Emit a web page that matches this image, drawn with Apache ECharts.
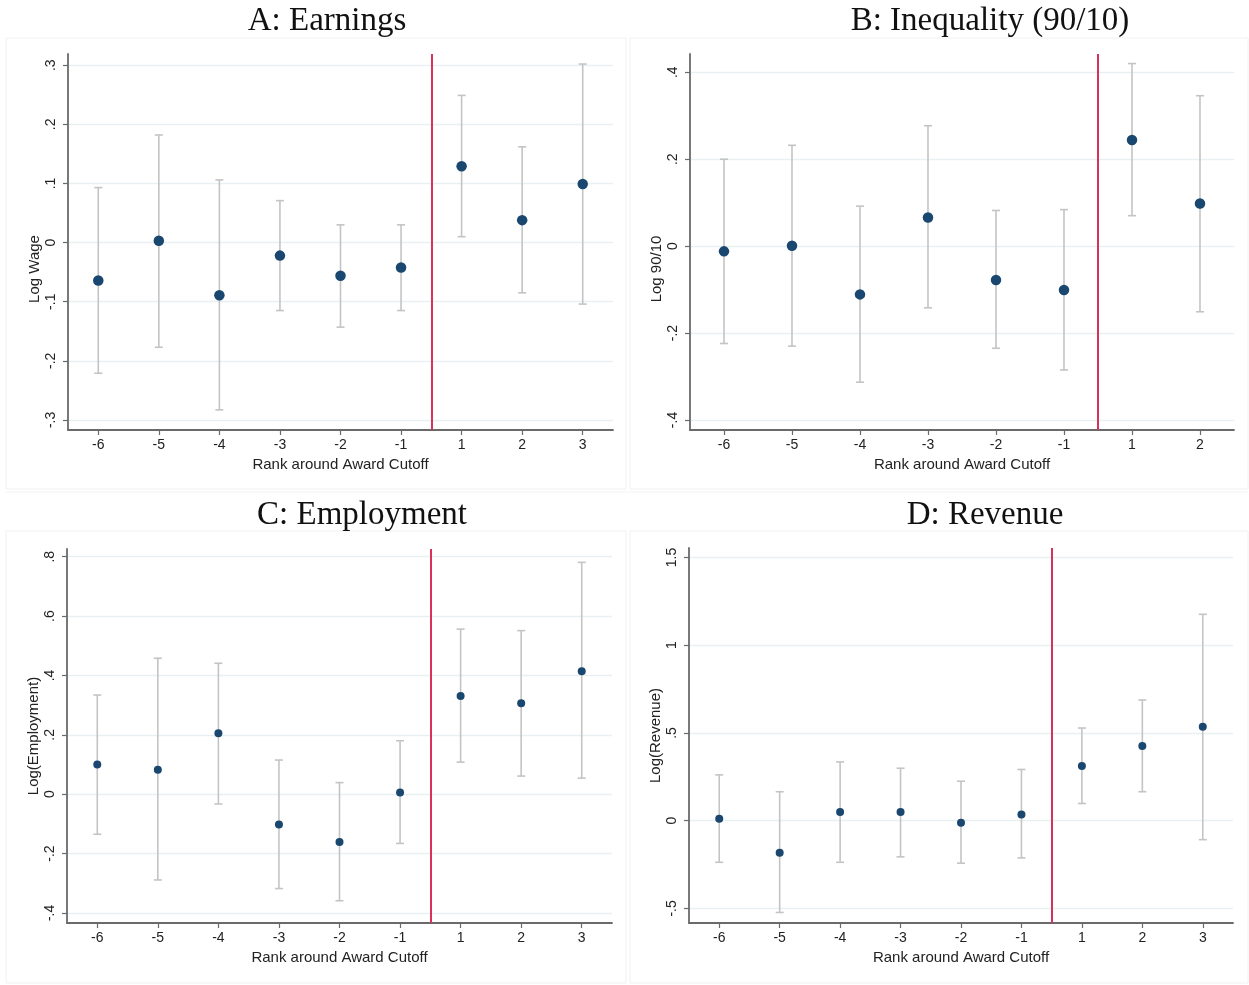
<!DOCTYPE html>
<html>
<head>
<meta charset="utf-8">
<script src="https://cdn.jsdelivr.net/npm/echarts@6/dist/echarts.min.js"></script>
<style>
html,body{margin:0;padding:0;background:#fff;}
#chart{width:1249px;height:985px;}
</style>
</head>
<body>
<div id="chart"></div>
<script>
// ---- data ----
const ranks9 = ['-6', '-5', '-4', '-3', '-2', '-1', '1', '2', '3'];
const ranks8 = ['-6', '-5', '-4', '-3', '-2', '-1', '1', '2'];

const earningsPoint = [-0.064, 0.003, -0.089, -0.022, -0.056, -0.042, 0.129, 0.038, 0.099];
const earningsLow   = [-0.221, -0.177, -0.283, -0.115, -0.143, -0.115, 0.010, -0.085, -0.104];
const earningsHigh  = [0.093, 0.182, 0.106, 0.071, 0.030, 0.030, 0.249, 0.162, 0.302];

const ineqPoint = [-0.012, 0.001, -0.111, 0.066, -0.078, -0.101, 0.244, 0.098];
const ineqLow   = [-0.224, -0.230, -0.313, -0.142, -0.235, -0.285, 0.070, -0.151];
const ineqHigh  = [0.200, 0.232, 0.092, 0.277, 0.082, 0.084, 0.420, 0.346];

const emplPoint = [0.100, 0.082, 0.205, -0.102, -0.161, 0.006, 0.331, 0.306, 0.414];
const emplLow   = [-0.135, -0.289, -0.033, -0.318, -0.359, -0.166, 0.108, 0.061, 0.054];
const emplHigh  = [0.334, 0.458, 0.441, 0.115, 0.039, 0.180, 0.556, 0.551, 0.781];

const revPoint = [0.011, -0.182, 0.049, 0.049, -0.011, 0.036, 0.311, 0.426, 0.536];
const revLow   = [-0.237, -0.523, -0.237, -0.206, -0.242, -0.212, 0.098, 0.165, -0.108];
const revHigh  = [0.261, 0.165, 0.335, 0.299, 0.225, 0.292, 0.528, 0.688, 1.176];

const yTicksA = [-0.3, -0.2, -0.1, 0, 0.1, 0.2, 0.3];
const yTicksB = [-0.4, -0.2, 0, 0.2, 0.4];
const yTicksC = [-0.4, -0.2, 0, 0.2, 0.4, 0.6, 0.8];
const yTicksD = [-0.5, 0, 0.5, 1, 1.5];

const titles = ['A: Earnings', 'B: Inequality (90/10)', 'C: Employment', 'D: Revenue'];
const yNames = ['Log Wage', 'Log 90/10', 'Log(Employment)', 'Log(Revenue)'];
const xName = 'Rank around Award Cutoff';
const cutoff = 5.5; // between rank -1 and rank 1

// ---- styling ----
const NAVY = '#1a476f';
const BAR = '#c4c4c4';
const RED = '#d8315b';
const AXIS = '#6a6a6a';
const GRIDC = '#e8f0f1';
const SANS = '"Liberation Sans", Arial, Helvetica, sans-serif';
const SERIF = '"Liberation Serif", "Times New Roman", serif';

function fmtY(v) {
  let s = String(+(+v).toFixed(3));
  return s.replace(/^(-?)0\./, '$1.');
}

const panels = [
  {grid: {left: 68, top: 54, width: 545, height: 376}, ranks: ranks9, ymin: -0.317, ymax: 0.319, ticks: yTicksA, pt: earningsPoint, lo: earningsLow, hi: earningsHigh, size: 10.5, namePad: [0, 54, 0, 0]},
  {grid: {left: 690, top: 54, width: 544, height: 376}, ranks: ranks8, ymin: -0.423, ymax: 0.442, ticks: yTicksB, pt: ineqPoint, lo: ineqLow, hi: ineqHigh, size: 10.5, namePad: [0, 54, 0, 0]},
  {grid: {left: 67, top: 549, width: 545, height: 374}, ranks: ranks9, ymin: -0.434, ymax: 0.826, ticks: yTicksC, pt: emplPoint, lo: emplLow, hi: emplHigh, size: 8, namePad: [0, 0, 0, 0]},
  {grid: {left: 689, top: 548, width: 544, height: 375}, ranks: ranks9, ymin: -0.583, ymax: 1.554, ticks: yTicksD, pt: revPoint, lo: revLow, hi: revHigh, size: 8, namePad: [0, 0, 0, 0]}
];

const grids = [], xAxes = [], yAxes = [], series = [];
panels.forEach((p, k) => {
  grids.push(Object.assign({containLabel: false}, p.grid));
  const idx = p.ranks.map((_, i) => i);
  xAxes.push({
    type: 'value', gridIndex: k, min: -0.5, max: p.ranks.length - 0.5,
    name: xName, nameLocation: 'middle', nameGap: 27,
    nameTextStyle: {fontFamily: SANS, fontSize: 15, color: '#222'},
    axisLine: {onZero: false, lineStyle: {color: AXIS, width: 1.8}},
    axisTick: {show: true, length: 5, customValues: idx, lineStyle: {color: AXIS, width: 1.2}},
    axisLabel: {customValues: idx, margin: 8, fontFamily: SANS, fontSize: 14, color: '#222',
      formatter: v => p.ranks[Math.round(v)]},
    splitLine: {show: false}
  });
  yAxes.push({
    type: 'value', gridIndex: k, min: p.ymin, max: p.ymax,
    name: yNames[k], nameLocation: 'middle', nameGap: 26,
    nameTextStyle: {fontFamily: SANS, fontSize: 15, color: '#222', padding: p.namePad},
    axisLine: {show: true, onZero: false, lineStyle: {color: AXIS, width: 1.8}},
    axisTick: {show: true, length: 5, customValues: p.ticks, lineStyle: {color: AXIS, width: 1.2}},
    axisLabel: {customValues: p.ticks, rotate: 90, margin: 10, fontFamily: SANS, fontSize: 14, color: '#222',
      formatter: fmtY},
    splitLine: {show: true, lineStyle: {color: GRIDC, width: 1.3}}
  });
  series.push({
    type: 'custom', xAxisIndex: k, yAxisIndex: k, z: 2,
    data: p.ranks.map((_, i) => [i, p.lo[i], p.hi[i]]),
    renderItem: function (params, api) {
      const x = api.value(0);
      const a = api.coord([x, api.value(1)]);
      const b = api.coord([x, api.value(2)]);
      const cw = 4;
      const st = {stroke: BAR, lineWidth: 1.6};
      return {type: 'group', children: [
        {type: 'line', shape: {x1: a[0], y1: a[1], x2: b[0], y2: b[1]}, style: st},
        {type: 'line', shape: {x1: a[0] - cw, y1: a[1], x2: a[0] + cw, y2: a[1]}, style: st},
        {type: 'line', shape: {x1: b[0] - cw, y1: b[1], x2: b[0] + cw, y2: b[1]}, style: st}
      ]};
    }
  });
  series.push({
    type: 'scatter', xAxisIndex: k, yAxisIndex: k, z: 4,
    symbol: 'circle', symbolSize: p.size,
    itemStyle: {color: NAVY, opacity: 1},
    data: p.pt.map((v, i) => [i, v]),
    markLine: {
      silent: true, symbol: 'none', label: {show: false},
      lineStyle: {color: RED, width: 2, type: 'solid'},
      data: [{xAxis: cutoff}]
    }
  });
});

const titlePos = [[327, 21], [990, 21], [362, 515], [985, 515]];
const boxes = [[6, 38, 620, 451], [630, 38, 618, 451], [6, 531, 620, 452], [630, 531, 618, 452]];
const graphic = [];
boxes.forEach(b => graphic.push({type: 'rect', silent: true, z: -10,
  shape: {x: b[0], y: b[1], width: b[2], height: b[3]}, style: {fill: 'none', stroke: '#f1f1f1', lineWidth: 1}}));
graphic.push({type: 'line', silent: true, z: -10, shape: {x1: 6, y1: 492, x2: 1248, y2: 492}, style: {stroke: '#f3f3f3', lineWidth: 1}});
titles.forEach((t, k) => graphic.push({type: 'text', x: titlePos[k][0], y: titlePos[k][1],
  style: {text: t, align: 'center', verticalAlign: 'middle', fontFamily: SERIF, fontSize: 33, fill: '#111'}}));

const chart = echarts.init(document.getElementById('chart'), null, {renderer: 'canvas'});
chart.setOption({
  backgroundColor: '#fff',
  animation: false,
  grid: grids, xAxis: xAxes, yAxis: yAxes, series: series, graphic: graphic
});
</script>
</body>
</html>
